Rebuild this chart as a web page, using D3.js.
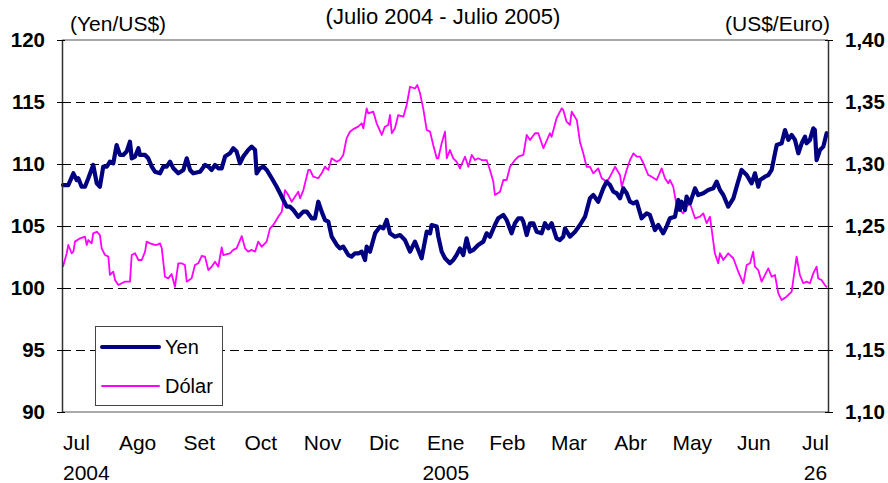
<!DOCTYPE html>
<html>
<head>
<meta charset="utf-8">
<script src="https://cdn.jsdelivr.net/npm/d3@7"></script>
<style>
  html, body { margin: 0; padding: 0; background: #fff; }
  svg { display: block; }
  text { font-family: "Liberation Sans", Arial, sans-serif; fill: #000; }
</style>
</head>
<body>
<svg id="chart" width="888" height="483"></svg>
<script>
// ---------- DATA (days since 1 Jul 2004) ----------
const yenDays = [0.5,3.2,5.8,7.5,8.3,10.0,11.7,13.4,15.9,17.7,19.3,21.0,22.8,24.4,26.1,27.8,29.5,31.2,32.9,34.6,35.5,37.2,38.9,39.7,42.3,43.9,45.7,47.3,49.9,51.6,53.3,55.0,56.7,59.2,61.8,63.5,65.2,66.8,70.3,72.8,74.5,76.2,77.9,79.6,81.3,83.0,85.5,87.2,88.9,90.6,92.3,94.8,96.6,98.3,99.1,100.8,102.5,104.2,106.8,109.3,111.0,112.7,114.4,116.1,117.8,120.3,122.9,124.6,127.1,128.8,130.5,132.2,133.9,135.6,137.3,139.9,141.5,143.2,145.8,147.4,149.2,151.0,152.6,154.3,155.1,156.8,159.4,161.9,163.6,165.3,167.0,169.5,172.1,174.6,177.2,179.7,181.4,183.1,185.7,187.4,188.2,190.8,191.6,193.3,195.0,197.5,199.2,200.9,202.6,204.3,206.0,207.7,209.4,211.9,214.5,216.2,217.9,220.4,222.1,224.7,226.4,228.9,230.6,232.3,234.0,234.9,236.6,238.3,240.0,241.7,244.2,245.9,247.6,249.3,251.8,253.5,255.2,256.1,258.6,261.2,263.7,266.3,268.8,270.5,273.0,275.6,277.3,279.0,280.7,282.4,284.1,285.8,287.5,289.2,290.9,292.6,295.1,297.7,299.3,301.9,303.6,306.1,307.8,309.5,312.1,313.8,314.6,315.5,317.2,318.0,319.7,322.3,323.9,326.5,329.0,331.6,333.3,335.0,336.7,339.2,341.8,343.5,346.0,348.6,351.1,352.8,354.5,355.4,357.9,359.6,361.3,363.0,363.9,366.4,368.1,369.8,371.5,373.2,374.9,376.6,378.3,379.1,380.8,382.5,383.3,384.2,385.9,387.6,389.3];
const yenValues = [108.3,108.3,109.25,108.7,108.85,108.17,108.17,108.85,109.92,108.44,108.17,109.79,109.79,110.19,110.06,111.53,110.73,110.73,111.0,111.8,110.46,110.6,111.27,110.73,110.73,110.46,109.79,109.38,109.25,109.79,109.79,110.19,109.65,109.25,109.52,110.46,109.52,109.25,109.38,109.92,109.79,109.52,109.92,109.65,109.65,110.6,110.86,111.27,111.0,110.06,110.6,111.13,111.4,111.13,109.25,109.65,109.79,109.52,108.85,108.17,107.64,107.1,106.56,106.56,106.29,105.75,106.16,106.16,105.62,105.62,106.96,106.16,105.48,105.35,104.14,103.47,103.2,103.33,102.66,102.53,102.8,102.8,102.93,102.26,103.33,102.93,104.41,104.95,104.81,105.48,104.41,104.14,104.27,103.87,102.93,103.74,103.07,102.4,104.54,104.41,105.08,104.95,104.14,102.93,102.4,101.99,102.26,102.66,103.2,102.66,104.0,102.93,103.07,103.47,103.74,104.41,104.14,105.08,105.62,105.89,105.48,104.41,105.22,105.62,105.62,105.35,104.27,105.22,105.22,104.54,104.41,105.22,104.81,105.22,104.0,103.87,104.14,104.81,104.14,104.54,105.08,105.75,107.23,107.5,106.96,108.04,108.58,108.31,107.77,107.64,107.23,108.04,107.64,106.96,106.83,106.96,105.62,106.02,105.89,104.68,105.08,104.41,104.95,105.62,105.75,107.1,106.29,106.96,106.29,107.37,106.83,108.04,107.5,107.64,107.9,108.04,108.58,107.9,107.5,106.56,107.23,108.17,109.52,109.11,108.44,109.25,108.17,108.71,108.98,109.11,109.52,110.86,111.53,111.67,112.74,111.94,112.34,111.94,110.86,111.67,112.2,111.67,111.94,112.88,112.74,110.32,111.13,111.4,112.48];

const dolarDays = [0.5,2.4,3.2,4.9,5.8,6.6,9.2,11.7,12.6,13.4,15.1,15.9,17.7,19.3,20.2,21.9,23.6,24.4,26.1,27.0,28.7,30.4,32.1,34.6,35.5,37.2,38.9,40.6,42.3,43.1,44.8,47.3,48.2,49.9,50.8,52.4,54.1,55.8,57.5,59.2,60.9,62.6,63.5,66.0,67.7,69.4,71.1,72.8,74.5,76.2,77.9,79.6,81.3,82.1,85.5,87.2,88.9,91.5,93.2,94.8,96.6,98.3,99.9,101.7,104.2,105.9,107.6,110.1,111.9,113.5,115.2,116.9,118.6,120.3,121.2,122.9,125.4,126.3,127.9,130.5,132.2,133.9,135.6,137.3,139.9,141.5,143.2,144.9,146.6,148.3,150.8,152.6,153.4,155.1,155.9,158.5,160.2,162.8,164.4,166.1,167.0,167.9,169.5,171.2,173.8,175.5,177.2,179.7,180.9,182.3,183.9,185.7,187.4,189.0,190.8,191.6,193.3,195.0,195.9,197.5,199.2,200.9,202.6,205.2,206.9,208.6,210.3,211.9,213.7,216.2,217.9,219.6,220.4,223.0,224.7,226.4,228.1,230.6,232.3,234.9,236.6,238.3,240.8,242.5,245.1,248.4,249.3,251.8,254.4,255.2,256.9,258.6,259.5,262.1,263.7,265.4,267.1,268.8,270.5,273.0,274.8,277.3,279.0,281.6,284.1,285.0,287.5,289.2,290.9,292.6,294.3,296.0,298.5,300.2,302.8,305.3,307.0,308.7,309.5,311.2,312.9,314.6,316.3,318.0,319.7,322.3,324.8,326.5,328.2,329.9,332.4,334.1,335.0,336.7,339.2,341.8,344.3,346.9,348.6,350.3,351.9,352.8,354.5,356.2,359.6,361.3,363.0,364.7,366.4,368.9,371.5,374.0,375.7,377.4,379.1,380.8,382.5,384.2,385.0,386.7,388.4,389.5];
const dolarValues = [1.2172,1.228,1.2347,1.228,1.2293,1.2374,1.2401,1.2414,1.2347,1.2387,1.236,1.2441,1.2454,1.2427,1.232,1.2266,1.2253,1.2105,1.2132,1.2065,1.2024,1.2038,1.2051,1.2051,1.2266,1.228,1.2226,1.2226,1.2293,1.2374,1.236,1.2347,1.2347,1.236,1.232,1.2091,1.2078,1.2113,1.201,1.2199,1.2199,1.2185,1.2051,1.2078,1.2185,1.2199,1.2258,1.2253,1.2145,1.2172,1.2212,1.2172,1.2328,1.2266,1.228,1.2307,1.232,1.2419,1.232,1.2293,1.2307,1.2293,1.2374,1.2333,1.2374,1.2481,1.2508,1.2575,1.2615,1.279,1.275,1.2696,1.2736,1.2777,1.2723,1.279,1.2952,1.2952,1.2898,1.2885,1.2925,1.2978,1.2952,1.3046,1.3019,1.3032,1.3073,1.3207,1.326,1.3281,1.3301,1.3328,1.3288,1.3449,1.3409,1.3422,1.3328,1.3234,1.3301,1.3315,1.3395,1.3248,1.3288,1.3395,1.3382,1.3476,1.3623,1.3609,1.3637,1.357,1.3449,1.3274,1.3261,1.3153,1.3046,1.3046,1.3167,1.3261,1.3046,1.3113,1.3046,1.3019,1.2965,1.3059,1.2978,1.3073,1.3032,1.3046,1.3032,1.3032,1.2952,1.2857,1.275,1.2777,1.2871,1.2871,1.2978,1.3032,1.3059,1.3073,1.3234,1.3194,1.3248,1.3248,1.3127,1.3248,1.322,1.3369,1.3449,1.3436,1.3341,1.3315,1.3422,1.3355,1.318,1.3086,1.2978,1.2978,1.2925,1.2965,1.2885,1.2857,1.2898,1.2978,1.2911,1.2817,1.2952,1.3032,1.3086,1.3059,1.3059,1.3006,1.2911,1.2898,1.2871,1.2965,1.2885,1.2844,1.2871,1.2817,1.2669,1.2629,1.2602,1.2656,1.2683,1.2562,1.2575,1.2602,1.2522,1.2575,1.228,1.2199,1.228,1.2226,1.228,1.224,1.2132,1.2038,1.2185,1.2199,1.2293,1.2172,1.2145,1.2051,1.2159,1.2091,1.2105,1.1957,1.1903,1.193,1.197,1.2253,1.2105,1.2038,1.2051,1.2038,1.2118,1.2172,1.2078,1.2065,1.2024,1.2005];

const monthLabels = ["Jul","Ago","Set","Oct","Nov","Dic","Ene","Feb","Mar","Abr","May","Jun","Jul"];
const yearLabels = [{i:0, t:"2004"}, {i:6, t:"2005"}, {i:12, t:"26"}];
const leftTicks = [90, 95, 100, 105, 110, 115, 120];
const rightTicks = [1.10, 1.15, 1.20, 1.25, 1.30, 1.35, 1.40];
const seriesNames = ["Yen", "Dólar"];
const titleText = "(Julio 2004 - Julio 2005)";
const leftUnit = "(Yen/US$)";
const rightUnit = "(US$/Euro)";

// ---------- LAYOUT ----------
const svg = d3.select("#chart");
svg.append("rect").attr("width", 888).attr("height", 483).attr("fill", "#fff");

const L = 62, R = 828, T = 40, B = 412;
const x = d3.scaleLinear().domain([0, 390]).range([L, R]);
const yL = d3.scaleLinear().domain([90, 120]).range([B, T]);
const yR = d3.scaleLinear().domain([1.10, 1.40]).range([B, T]);

// gridlines (dashed) for interior ticks
svg.append("g").selectAll("line")
  .data(leftTicks.filter(v => v > 90 && v < 120))
  .join("line")
  .attr("x1", L).attr("x2", R)
  .attr("y1", d => yL(d)).attr("y2", d => yL(d))
  .attr("stroke", "#000").attr("stroke-width", 1)
  .attr("stroke-dasharray", "9,5")
  .attr("shape-rendering", "crispEdges");

// top and bottom frame lines
svg.append("line").attr("x1", L).attr("x2", R).attr("y1", yL(120)).attr("y2", yL(120))
  .attr("stroke", "#8c8c8c").attr("stroke-width", 1.5);
svg.append("line").attr("x1", L).attr("x2", R).attr("y1", yL(90)).attr("y2", yL(90))
  .attr("stroke", "#8c8c8c").attr("stroke-width", 1.5);

// series lines
const yenData = yenDays.map((d, i) => [d, yenValues[i]]);
const dolarData = dolarDays.map((d, i) => [d, dolarValues[i]]);

svg.append("path")
  .datum(dolarData)
  .attr("fill", "none").attr("stroke", "#ff00ff").attr("stroke-width", 1.8)
  .attr("stroke-linejoin", "round")
  .attr("d", d3.line().x(d => x(d[0])).y(d => yR(d[1])));

svg.append("path")
  .datum(yenData)
  .attr("fill", "none").attr("stroke", "#000080").attr("stroke-width", 4.2)
  .attr("stroke-linejoin", "round").attr("stroke-linecap", "round")
  .attr("d", d3.line().x(d => x(d[0])).y(d => yL(d[1])));

// left axis
const axL = svg.append("g").attr("transform", `translate(${L},0)`)
  .call(d3.axisLeft(yL).tickValues(leftTicks).tickSizeOuter(0).tickSizeInner(5).tickPadding(12).tickFormat(d3.format("d")));
axL.select(".domain").attr("stroke", "#333").attr("stroke-width", 1.5);
axL.selectAll(".tick line").attr("x1", 3).attr("stroke", "#000");
axL.selectAll(".tick text")
  .attr("font-family", "'Liberation Sans', Arial, sans-serif")
  .attr("font-size", 20.5).attr("font-weight", "bold").attr("fill", "#000");

// right axis
const fmtR = d => d3.format(".2f")(d).replace(".", ",");
const axR = svg.append("g").attr("transform", `translate(${R},0)`)
  .call(d3.axisRight(yR).tickValues(rightTicks).tickSizeOuter(0).tickSizeInner(5).tickPadding(12).tickFormat(fmtR));
axR.select(".domain").attr("stroke", "#333").attr("stroke-width", 1.5);
axR.selectAll(".tick line").attr("x1", -3).attr("stroke", "#000");
axR.selectAll(".tick text")
  .attr("font-family", "'Liberation Sans', Arial, sans-serif")
  .attr("font-size", 20.5).attr("font-weight", "bold").attr("fill", "#000");

// month labels
const mx = d3.scalePoint().domain(d3.range(monthLabels.length)).range([76, 815.5]);
svg.append("g").selectAll("text")
  .data(monthLabels)
  .join("text")
  .attr("x", (d, i) => i === 0 ? L + 1 : mx(i))
  .attr("y", 450)
  .attr("text-anchor", (d, i) => i === 0 ? "start" : "middle")
  .attr("font-size", 21)
  .text(d => d);
svg.append("g").selectAll("text")
  .data(yearLabels)
  .join("text")
  .attr("x", d => d.i === 0 ? L + 1 : mx(d.i))
  .attr("y", 480)
  .attr("text-anchor", d => d.i === 0 ? "start" : "middle")
  .attr("font-size", 21)
  .text(d => d.t);

// header texts
svg.append("text").attr("x", 443).attr("y", 24).attr("text-anchor", "middle")
  .attr("font-size", 22).text(titleText);
svg.append("text").attr("x", 70).attr("y", 31).attr("text-anchor", "start")
  .attr("font-size", 21).text(leftUnit);
svg.append("text").attr("x", 830).attr("y", 31).attr("text-anchor", "end")
  .attr("font-size", 21).text(rightUnit);

// legend
const lg = svg.append("g");
lg.append("rect").attr("x", 95.5).attr("y", 326.5).attr("width", 127).attr("height", 79)
  .attr("fill", "#fff").attr("stroke", "#444").attr("stroke-width", 1);
const legendStyles = [
  {name: seriesNames[0], color: "#000080", w: 4, y: 347},
  {name: seriesNames[1], color: "#ff00ff", w: 1.8, y: 386}
];
legendStyles.forEach(s => {
  lg.append("line").attr("x1", 102).attr("x2", 159).attr("y1", s.y).attr("y2", s.y)
    .attr("stroke", s.color).attr("stroke-width", s.w).attr("stroke-linecap", "round");
  lg.append("text").attr("x", 165).attr("y", s.y + 7).attr("font-size", 20).text(s.name);
});
</script>
</body>
</html>
